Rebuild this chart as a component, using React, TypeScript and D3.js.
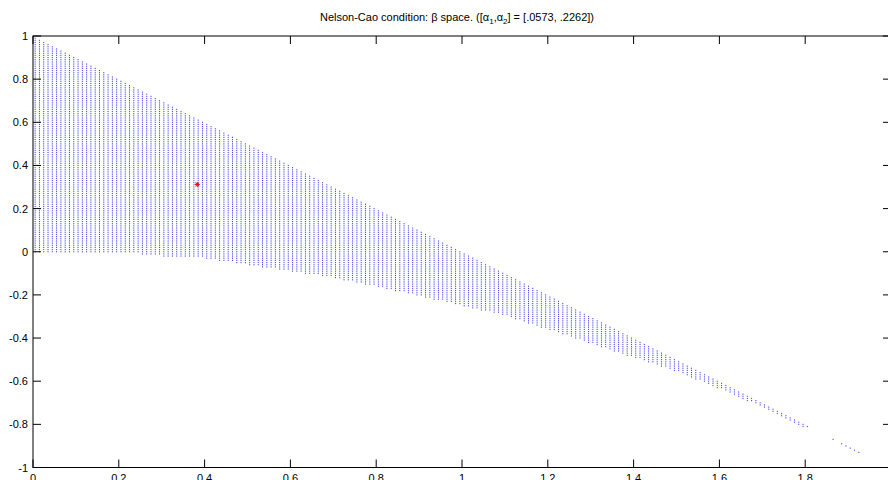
import React from "react";
import * as d3 from "d3";

// ---- data ----
const X_TICKS = [0, 0.2, 0.4, 0.6, 0.8, 1, 1.2, 1.4, 1.6, 1.8];
const Y_TICKS = [-1, -0.8, -0.6, -0.4, -0.2, 0, 0.2, 0.4, 0.6, 0.8, 1];
// region boundary (upper and lower edge of the admissible beta set)
const BOUND_X = [0, 0.1, 0.2, 0.25, 0.3, 0.4, 0.5, 0.6, 0.7, 0.8, 0.9, 1.0, 1.1, 1.2, 1.3, 1.4, 1.5, 1.6, 1.7, 1.8, 1.86, 1.93];
const BOUND_HI = [1, 0.9, 0.8, 0.75, 0.7, 0.6, 0.5, 0.4, 0.3, 0.2, 0.1, 0, -0.1, -0.2, -0.3, -0.4, -0.5, -0.6, -0.7, -0.8, -0.86, -0.925];
const BOUND_LO = [0, 0, 0, -0.01, -0.02, -0.03, -0.06, -0.09, -0.12, -0.16, -0.205, -0.25, -0.295, -0.36, -0.425, -0.49, -0.555, -0.635, -0.72, -0.815, -0.87, -0.935];
const GRID_STEP = 0.01;
const GRID_X0 = 0.005;
const GRID_X_END = 1.925;
const MISSING_COLUMNS = [1.815, 1.825, 1.835, 1.845, 1.855, 1.875];
const STAR = { x: 0.383, y: 0.312 };
const X_DOMAIN = [0, 2];
const Y_DOMAIN = [-1, 1];

const W = 888;
const H = 480;
const M = { left: 33, right: 891, top: 36, bottom: 467.5 };

function buildPoints() {
  const hi = d3.scaleLinear().domain(BOUND_X).range(BOUND_HI).clamp(true);
  const lo = d3.scaleLinear().domain(BOUND_X).range(BOUND_LO).clamp(true);
  const pts: { x: number; y: number }[] = [];
  const nCols = Math.round((GRID_X_END - GRID_X0) / GRID_STEP);
  for (let i = 0; i <= nCols; i++) {
    const x = +(GRID_X0 + i * GRID_STEP).toFixed(3);
    if (MISSING_COLUMNS.some((m) => Math.abs(m - x) < 1e-6)) continue;
    const h = hi(x);
    const l = lo(x);
    for (let j = -100; j <= 100; j++) {
      const y = j * GRID_STEP;
      if (y < h - 1e-9 && y >= l - 1e-9) pts.push({ x, y });
    }
  }
  return pts;
}

export default function App() {
  const xs = d3.scaleLinear().domain(X_DOMAIN).range([M.left, M.right]);
  const ys = d3.scaleLinear().domain(Y_DOMAIN).range([M.bottom, M.top]);
  const pts = buildPoints();
  const tick = 8;
  const font = "Liberation Sans, Arial, Helvetica, sans-serif";
  const sx = xs(STAR.x);
  const sy = ys(STAR.y);
  const r = 2.6;
  const fmt = (t: number) => String(t);
  return (
    <svg
      width={W}
      height={H}
      style={{ position: "absolute", left: 0, top: 0, background: "#fff" }}
      fontFamily={font}
    >
      <rect x={0} y={0} width={W} height={H} fill="#fff" />
      <g fill="#0000ff" fillOpacity={0.75}>
        {pts.map((p, i) => (
          <rect key={i} x={xs(p.x) - 0.5} y={ys(p.y) - 0.6} width={1} height={1.2} />
        ))}
      </g>
      <g stroke="#ff0000" strokeWidth={1}>
        <line x1={sx - r} x2={sx + r} y1={sy} y2={sy} />
        <line x1={sx} x2={sx} y1={sy - r} y2={sy + r} />
        <line x1={sx - r * 0.75} x2={sx + r * 0.75} y1={sy - r * 0.75} y2={sy + r * 0.75} />
        <line x1={sx - r * 0.75} x2={sx + r * 0.75} y1={sy + r * 0.75} y2={sy - r * 0.75} />
      </g>
      <g stroke="#000" strokeWidth={1} fill="none">
        <rect x={M.left} y={M.top} width={M.right - M.left} height={M.bottom - M.top} />
        {X_TICKS.map((t) => (
          <g key={"xt" + t}>
            <line x1={xs(t)} x2={xs(t)} y1={M.bottom} y2={M.bottom - tick} />
            <line x1={xs(t)} x2={xs(t)} y1={M.top} y2={M.top + tick} />
          </g>
        ))}
        {Y_TICKS.map((t) => (
          <g key={"yt" + t}>
            <line x1={M.left} x2={M.left + tick} y1={ys(t)} y2={ys(t)} />
            <line x1={M.right} x2={M.right - tick} y1={ys(t)} y2={ys(t)} />
          </g>
        ))}
      </g>
      <g fontSize={11} fill="#000">
        {X_TICKS.map((t) => (
          <text key={"xl" + t} x={xs(t)} y={M.bottom + 14} textAnchor="middle">
            {fmt(t)}
          </text>
        ))}
        {Y_TICKS.map((t) => (
          <text key={"yl" + t} x={M.left - 5} y={ys(t) + 4} textAnchor="end">
            {fmt(t)}
          </text>
        ))}
      </g>
      <text x={457} y={21} textAnchor="middle" fontSize={11} fill="#000">
        Nelson-Cao condition: β space. ([α
        <tspan fontSize={8} dy={3}>1</tspan>
        <tspan dy={-3}>,α</tspan>
        <tspan fontSize={8} dy={3}>2</tspan>
        <tspan dy={-3}>] = [.0573, .2262])</tspan>
      </text>
    </svg>
  );
}
